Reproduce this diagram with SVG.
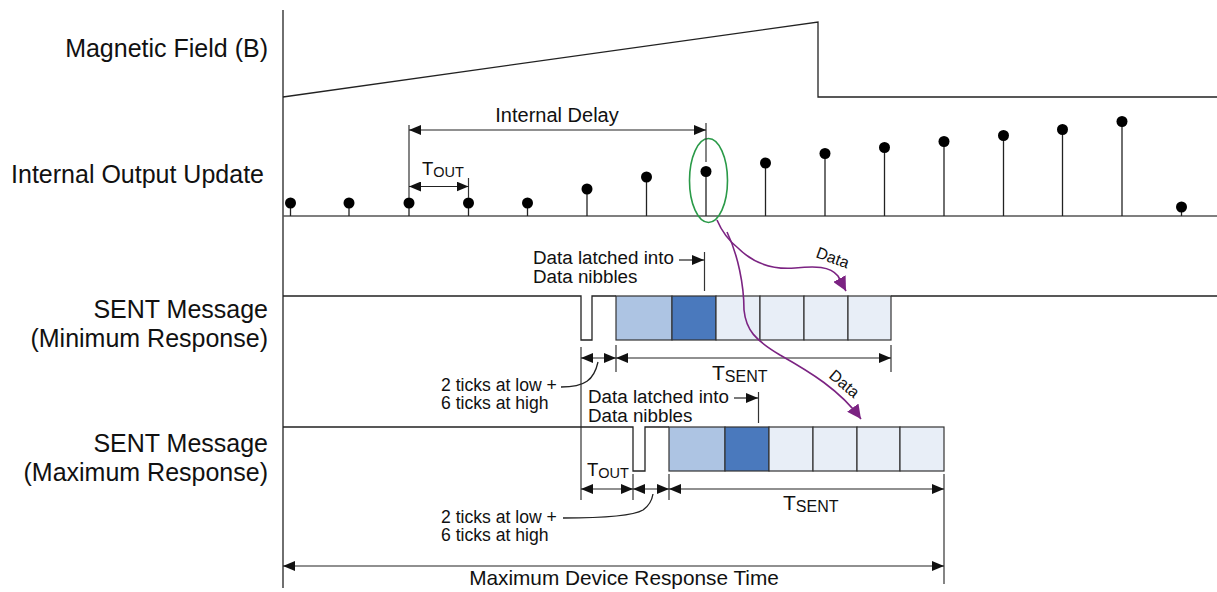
<svg xmlns="http://www.w3.org/2000/svg" width="1217" height="592" viewBox="0 0 1217 592">
<style>
text{font-family:"Liberation Sans",Arial,sans-serif;fill:#111}
.lbl{font-size:25px;text-anchor:end}
.sig{fill:none;stroke:#222;stroke-width:1.3}
.base{fill:none;stroke:#555;stroke-width:1.6}
.stem{stroke:#222;stroke-width:1.3}
.dim{fill:none;stroke:#222;stroke-width:1.2;marker-start:url(#ah);marker-end:url(#ah)}
.one{fill:none;stroke:#222;stroke-width:1.2;marker-end:url(#ah)}
.tick{stroke:#333;stroke-width:1.2}
.b1{fill:#adc4e3;stroke:#333;stroke-width:1.2}
.b2{fill:#4a79bd;stroke:#333;stroke-width:1.2}
.b3{fill:#e8eef7;stroke:#333;stroke-width:1.2}
.flow{fill:none;stroke:#7b2382;stroke-width:1.6}
.m{font-size:18.8px}
.s{font-size:17.6px}
</style>
<defs>
<marker id="ah" viewBox="0 0 12 10" refX="12" refY="5" markerWidth="12" markerHeight="10" markerUnits="userSpaceOnUse" orient="auto-start-reverse"><path d="M0,0 L12,5 L0,10 z" fill="#111"/></marker>
<marker id="ap" viewBox="0 0 14 14" refX="14" refY="7" markerWidth="14" markerHeight="14" markerUnits="userSpaceOnUse" orient="auto"><path d="M0,0 L14,7 L0,14 z" fill="#7b2382"/></marker>
</defs>
<rect width="1217" height="592" fill="#fff"/>

<g id="labels">
<text class="lbl" x="268" y="57">Magnetic Field (B)</text>
<text class="lbl" x="264" y="183">Internal Output Update</text>
<text class="lbl" x="268" y="318">SENT Message</text>
<text class="lbl" x="268" y="347">(Minimum Response)</text>
<text class="lbl" x="268" y="452">SENT Message</text>
<text class="lbl" x="268" y="481">(Maximum Response)</text>
</g>

<g id="axis">
<line x1="283" y1="10" x2="283" y2="588" stroke="#333" stroke-width="1.4"/>
</g>

<g id="magnetic-field">
<polyline class="sig" points="283,97 818,22 818,97 1217,97"/>
</g>

<g id="internal-output">
<line class="base" x1="283" y1="216" x2="1217" y2="216"/>
<g class="stem">
<line x1="290.5" y1="216" x2="290.5" y2="203"/>
<line x1="349" y1="216" x2="349" y2="203"/>
<line x1="409" y1="216" x2="409" y2="203"/>
<line x1="468.5" y1="216" x2="468.5" y2="203"/>
<line x1="527.5" y1="216" x2="527.5" y2="203"/>
<line x1="587" y1="216" x2="587" y2="189"/>
<line x1="646.5" y1="216" x2="646.5" y2="177"/>
<line x1="706" y1="216" x2="706" y2="171.5"/>
<line x1="765.5" y1="216" x2="765.5" y2="163"/>
<line x1="825" y1="216" x2="825" y2="153.5"/>
<line x1="884.5" y1="216" x2="884.5" y2="147.5"/>
<line x1="944" y1="216" x2="944" y2="141.5"/>
<line x1="1003.5" y1="216" x2="1003.5" y2="135.5"/>
<line x1="1062.5" y1="216" x2="1062.5" y2="129.5"/>
<line x1="1122" y1="216" x2="1122" y2="121.5"/>
<line x1="1181.5" y1="216" x2="1181.5" y2="207"/>
</g>
<g fill="#000">
<circle cx="290.5" cy="203" r="5.5"/>
<circle cx="349" cy="203" r="5.5"/>
<circle cx="409" cy="203" r="5.5"/>
<circle cx="468.5" cy="203" r="5.5"/>
<circle cx="527.5" cy="203" r="5.5"/>
<circle cx="587" cy="189" r="5.5"/>
<circle cx="646.5" cy="177" r="5.5"/>
<circle cx="706" cy="171.5" r="5.5"/>
<circle cx="765.5" cy="163" r="5.5"/>
<circle cx="825" cy="153.5" r="5.5"/>
<circle cx="884.5" cy="147.5" r="5.5"/>
<circle cx="944" cy="141.5" r="5.5"/>
<circle cx="1003.5" cy="135.5" r="5.5"/>
<circle cx="1062.5" cy="129.5" r="5.5"/>
<circle cx="1122" cy="121.5" r="5.5"/>
<circle cx="1181.5" cy="207" r="5.5"/>
</g>
<ellipse cx="708.5" cy="180.5" rx="19" ry="42" fill="none" stroke="#2a9a48" stroke-width="1.6"/>
</g>

<g id="internal-delay">
<line class="tick" x1="409" y1="125" x2="409" y2="198"/>
<line class="tick" x1="706" y1="123" x2="706" y2="162"/>
<line class="tick" x1="468.5" y1="178" x2="468.5" y2="198"/>
<line class="dim" x1="409" y1="130" x2="706" y2="130"/>
<text x="557" y="122" font-size="20" text-anchor="middle">Internal Delay</text>
<line class="dim" x1="409" y1="186.5" x2="468.5" y2="186.5"/>
<text x="422" y="174.5" font-size="18.5">T<tspan font-size="14.5" dy="2">OUT</tspan></text>
</g>

<g id="sent-min">
<path class="sig" d="M283,296 H581 V340 H592 V296 H616 M891,296 H1217"/>
<rect class="b1" x="616" y="296" width="56" height="44"/>
<rect class="b2" x="672" y="296" width="44" height="44"/>
<rect class="b3" x="716" y="296" width="44" height="44"/>
<rect class="b3" x="760" y="296" width="44" height="44"/>
<rect class="b3" x="804" y="296" width="44" height="44"/>
<rect class="b3" x="848" y="296" width="43" height="44"/>
<text class="m" x="533" y="264">Data latched into</text>
<text class="m" x="533" y="283">Data nibbles</text>
<line class="one" x1="679" y1="260" x2="704" y2="260"/>
<line class="tick" x1="704.5" y1="252" x2="704.5" y2="291"/>
<line class="tick" x1="581" y1="347" x2="581" y2="500"/>
<line class="tick" x1="616" y1="345" x2="616" y2="372"/>
<line class="tick" x1="891" y1="345" x2="891" y2="372"/>
<line class="dim" x1="581" y1="358" x2="616" y2="358"/>
<line class="dim" x1="616" y1="358" x2="891" y2="358"/>
<text x="712" y="380" font-size="21">T<tspan font-size="16" dy="2">SENT</tspan></text>
<text class="s" x="441" y="391">2 ticks at low +</text>
<text class="s" x="441" y="409">6 ticks at high</text>
<path class="sig" d="M561,387 C585,387 594,380 598,362" stroke-width="1.1"/>
</g>

<g id="sent-max">
<path class="sig" d="M283,427 H633 V471 H645 V427 H669"/>
<rect class="b1" x="669" y="427" width="56" height="44"/>
<rect class="b2" x="725" y="427" width="44" height="44"/>
<rect class="b3" x="769" y="427" width="44" height="44"/>
<rect class="b3" x="813" y="427" width="44" height="44"/>
<rect class="b3" x="857" y="427" width="43" height="44"/>
<rect class="b3" x="900" y="427" width="44" height="44"/>
<text class="m" x="588" y="403">Data latched into</text>
<text class="m" x="588" y="422">Data nibbles</text>
<line class="one" x1="734" y1="398" x2="758" y2="398"/>
<line class="tick" x1="758.5" y1="392" x2="758.5" y2="423"/>
<line class="tick" x1="633" y1="474" x2="633" y2="500"/>
<line class="tick" x1="669" y1="474" x2="669" y2="500"/>
<line class="tick" x1="944" y1="474" x2="944" y2="584"/>
<line class="dim" x1="581" y1="489" x2="633" y2="489"/>
<line class="dim" x1="633" y1="489" x2="669" y2="489"/>
<line class="dim" x1="669" y1="489" x2="944" y2="489"/>
<text x="587" y="476" font-size="18.5">T<tspan font-size="14.5" dy="2">OUT</tspan></text>
<text x="783" y="510" font-size="21">T<tspan font-size="16" dy="2">SENT</tspan></text>
<text class="s" x="441" y="523">2 ticks at low +</text>
<text class="s" x="441" y="541">6 ticks at high</text>
<path class="sig" d="M563,518 C600,518 633,516 643,510 C650,505 652,500 653,494" stroke-width="1.1"/>
</g>

<g id="response-time">
<line class="dim" x1="283" y1="566" x2="944" y2="566"/>
<text x="624" y="585" font-size="20.8" text-anchor="middle">Maximum Device Response Time</text>
</g>

<g id="connectors">
<path class="flow" d="M717,220 C722,232 728,240 738,248 C752,262 770,270 795,268 C815,266 830,266 838,276 L846,291" marker-end="url(#ap)"/>
<path class="flow" d="M727,232 C738,255 744,285 744,310 C746,330 755,340 780,355 C810,372 840,390 861,419" marker-end="url(#ap)"/>
<text x="815" y="257" font-size="16" transform="rotate(20 815 257)">Data</text>
<text x="828" y="377" font-size="16" transform="rotate(40 828 377)">Data</text>
</g>
</svg>
